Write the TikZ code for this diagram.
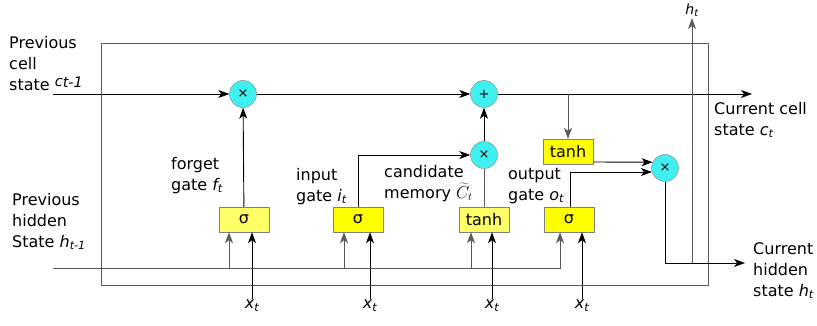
\documentclass[tikz,border=0pt]{standalone}
\usepackage{fontspec}
\setmainfont{DejaVu Sans}
\usetikzlibrary{arrows.meta,calc}
\definecolor{cyanf}{RGB}{64,240,240}
\definecolor{ylight}{RGB}{255,255,102}
\definecolor{yfull}{RGB}{255,255,0}
\definecolor{wiregray}{RGB}{90,90,90}
\newcommand\sv[2]{{\itshape #1}\textsubscript{\itshape #2}}
\begin{document}
\begin{tikzpicture}[x=1pt,y=-1pt,
  font=\fontsize{16}{21}\selectfont,
  mult/.style={circle, draw=gray, fill=cyanf, minimum size=27pt, inner sep=0pt, font=\fontsize{13}{13}\selectfont},
  gatebox/.style={draw=gray, fill=yfull, minimum width=50pt, minimum height=25pt, inner sep=0pt},
  lbl/.style={align=left, inner sep=0pt, anchor=base west},
  wire/.style={draw=wiregray, line width=0.9pt},
  blk/.style={draw=black, line width=0.9pt},
  arr/.style={-{Stealth[length=11pt,width=8pt,inset=3pt]}},
  xin/.style={inner sep=1pt, anchor=north}]
\useasboundingbox (0,0) rectangle (817,325);
% outer cell frame
\draw[wire] (101,43) rectangle (708,285);
% operators
\node[mult] (m1) at (243,94) {×};
\node[mult] (add) at (484,94) {+};
\node[mult] (m2) at (484,155) {×};
\node[mult] (m3) at (665,168) {×};
% gates
\node[gatebox, fill=ylight] (fg) at (244,219.5) {σ};
\node[gatebox] (ig) at (358,219.5) {σ};
\node[gatebox, fill=ylight] (cg) at (484,219.5) {tanh};
\node[gatebox] (og) at (569,219.5) {σ};
\node[gatebox] (ot) at (568,151.5) {tanh};
% inputs x_t
\node[xin] (x1) at (252,299) {\sv{x}{t}};
\node[xin] (x2) at (370,299) {\sv{x}{t}};
\node[xin] (x3) at (492,299) {\sv{x}{t}};
\node[xin] (x4) at (582,299) {\sv{x}{t}};
% coordinates
\coordinate (cin) at (53,94);
\coordinate (cout) at (752,94);
\coordinate (hin) at (53,268);
\coordinate (hout) at (745,263);
\coordinate (hj) at (692,263);
\coordinate (htop) at (692,18);
% cell state line
\draw[blk,arr] (cin) -- (m1);
\draw[blk,arr] (m1) -- (add);
\draw[blk,arr] (add) -- (cout);
% hidden state line
\draw[wire,arr] (hin) -| ([xshift=-9pt]og.south);
\draw[wire,arr] ([xshift=-15pt]fg.south |- hin) -- ([xshift=-15pt]fg.south);
\draw[wire,arr] ([xshift=-14pt]ig.south |- hin) -- ([xshift=-14pt]ig.south);
\draw[wire,arr] ([xshift=-13pt]cg.south |- hin) -- ([xshift=-13pt]cg.south);
% x_t inputs
\draw[blk,arr] (x1.north) -- (x1.north |- fg.south);
\draw[blk,arr] (x2.north) -- (x2.north |- ig.south);
\draw[blk,arr] (x3.north) -- (x3.north |- cg.south);
\draw[blk,arr] (x4.north) -- (x4.north |- og.south);
% gate outputs
\draw[blk,arr] (fg) -- (m1);
\draw[blk,arr] (ig.north) |- (m2.west);
\draw[wire] (cg) -- (m2);
\draw[blk,arr] (m2) -- (add);
\draw[wire,arr] (ot.north |- cin) -- (ot.north);
\draw[blk,arr] ([yshift=-10.5pt]ot.east) -- (m3.155);
\draw[blk,arr] ([xshift=1.5pt]og.north) |- (m3.197);
\draw[blk,arr] (m3) |- (hout);
\draw[wire,arr] (hj) -- (htop);
% labels
\node[inner sep=1pt, anchor=south, font=\fontsize{14}{14}\selectfont] (htl) at (htop) {\sv{h}{t}};
\node[lbl] (pcs) at (9,90) {Previous\\cell\\state \raisebox{4pt}{\fontsize{14.5}{14.5}\selectfont\itshape c\raisebox{-1pt}{t-1}}};
\node[lbl] (phs) at (12,247) {Previous\\hidden\\State \sv{h}{t-1}};
\node[lbl] (fgl) at (171,190) {forget\\gate \sv{f}{t}};
\node[lbl] (igl) at (296,201) {input\\gate \sv{i}{t}};
\node[lbl] (cml) at (384,198) {candidate\\memory $\widetilde{C}_t$};
\node[lbl] (ogl) at (508,200) {output\\gate \sv{o}{t}};
\node[lbl] (ccs) at (714,135) {Current cell\\state \sv{c}{t}};
\node[lbl] (chs) at (753,296) {Current\\hidden\\state \sv{h}{t}};
\end{tikzpicture}
\end{document}
